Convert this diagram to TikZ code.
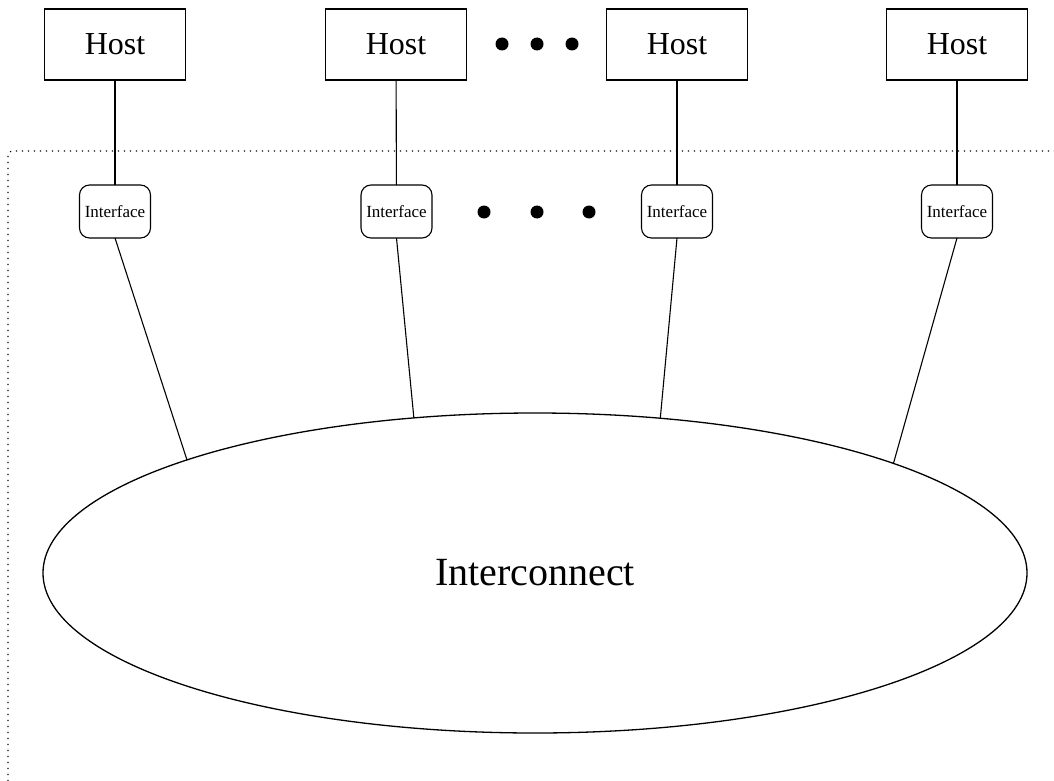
\documentclass[tikz,border=0pt]{standalone}
\usepackage{fontspec}
\setmainfont{Liberation Serif}
\usetikzlibrary{shapes.geometric}
\begin{document}
\begin{tikzpicture}[x=1pt,y=-1pt,
  hostbox/.style={draw,line width=1.3pt,minimum width=141pt,minimum height=71pt,inner sep=0pt,outer sep=0pt,font=\fontsize{32}{36}\selectfont},
  ifbox/.style={draw,line width=1.1pt,rounded corners=10pt,minimum width=71pt,minimum height=53pt,inner sep=0pt,outer sep=0pt,font=\fontsize{17}{19}\selectfont},
  link/.style={line width=1.1pt},
  dotfill/.style={fill=black}]
\useasboundingbox (0,0) rectangle (1054,781);
% dotted frame
\draw[line width=1.1pt,dash pattern=on 1.2pt off 4.8pt,rounded corners=4pt] (8,781) -- (8,151) -- (1054,151);
% hosts
\node[hostbox] (h1) at (115,44.5) {Host};
\node[hostbox] (h2) at (396,44.5) {Host};
\node[hostbox] (h3) at (677,44.5) {Host};
\node[hostbox] (h4) at (957,44.5) {Host};
% interfaces
\node[ifbox] (i1) at (115,211.5) {Interface};
\node[ifbox] (i2) at (396.5,211.5) {Interface};
\node[ifbox] (i3) at (677,211.5) {Interface};
\node[ifbox] (i4) at (957,211.5) {Interface};
% interconnect
\node[ellipse,draw,line width=1.3pt,minimum width=984pt,minimum height=320pt,inner sep=0pt,outer sep=0pt,font=\fontsize{40}{44}\selectfont] (ic) at (535,573) {Interconnect};
% ellipsis dots
\fill[dotfill] (502,44) circle (6.5);
\fill[dotfill] (537,44) circle (6.5);
\fill[dotfill] (572,44) circle (6.5);
\fill[dotfill] (484,212) circle (6.5);
\fill[dotfill] (537,212) circle (6.5);
\fill[dotfill] (589,212) circle (6.5);
% connectors
\draw[link] (h1) -- (i1);
\draw[link] (h2) -- (i2);
\draw[link] (h3) -- (i3);
\draw[link] (h4) -- (i4);
\draw[link] (i1.south) -- (ic.162.3);
\draw[link] (i2.south) -- (ic.128.2);
\draw[link] (i3.south) -- (ic.51.3);
\draw[link] (i4.south) -- (ic.17.6);
\end{tikzpicture}
\end{document}
